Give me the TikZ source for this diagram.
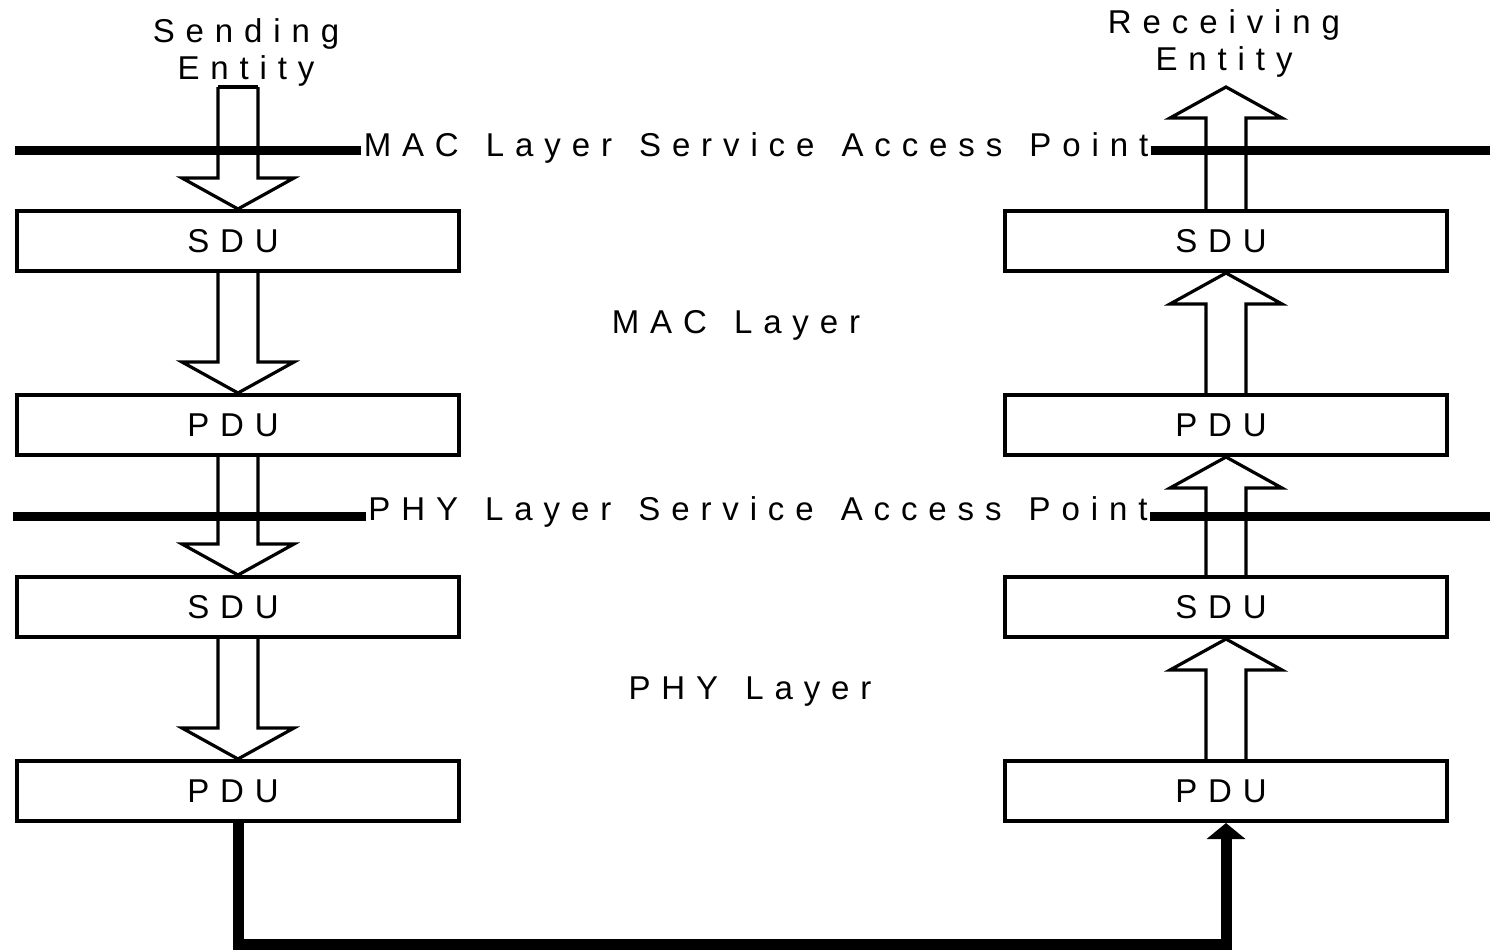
\documentclass[tikz,border=0pt]{standalone}
\usepackage{fontspec}
\usetikzlibrary{arrows.meta,calc}
\newfontfamily\pix[LetterSpace=33,WordSpace=1.35]{Liberation Sans}

% hollow block arrow pointing down: #1 shaft start, #2 tip
\newcommand\blockdown[2]{%
  \draw[blockarrow] let \p1=(#1), \p2=(#2) in
    (\x1-10pt,\y1) -- (\x1-10pt,\y2+15.5pt) -- (\x1-28pt,\y2+15.5pt) -- (\x1,\y2)
    -- (\x1+28pt,\y2+15.5pt) -- (\x1+10pt,\y2+15.5pt) -- (\x1+10pt,\y1);}
% hollow block arrow pointing up: #1 shaft start, #2 tip
\newcommand\blockup[2]{%
  \draw[blockarrow] let \p1=(#1), \p2=(#2) in
    (\x1-10pt,\y1) -- (\x1-10pt,\y2-15.5pt) -- (\x1-28pt,\y2-15.5pt) -- (\x1,\y2)
    -- (\x1+28pt,\y2-15.5pt) -- (\x1+10pt,\y2-15.5pt) -- (\x1+10pt,\y1);}

\tikzset{
  unitbox/.style={draw, line width=2pt, minimum width=221pt, minimum height=30pt,
    inner sep=0pt, font=\pix\fontsize{16.5}{18}\selectfont},
  blockarrow/.style={draw, line width=1.6pt, line join=miter},
  sapline/.style={line width=4.5pt},
  txt/.style={inner sep=1pt, font=\pix\fontsize{16.5}{18.5}\selectfont, align=center},
  link/.style={line width=5.5pt, line join=miter}
}

\begin{document}
\begin{tikzpicture}[x=0.5pt, y=-0.5pt]
\useasboundingbox (0,0) rectangle (1490,949);

% labels
\node[txt] (send) at (246,52) {Sending\\Entity};
\node[txt] (recv) at (1224,43) {Receiving\\Entity};
\node[txt] (maclayer) at (736,325) {MAC Layer};
\node[txt] (phylayer) at (750,692) {PHY Layer};

% sending stack
\node[unitbox] (ls1) at (238,241) {SDU\kern5pt};
\node[unitbox] (lp1) at (238,425) {PDU\kern5pt};
\node[unitbox] (ls2) at (238,607) {SDU\kern5pt};
\node[unitbox] (lp2) at (238,791) {PDU\kern5pt};

% receiving stack
\node[unitbox] (rs1) at (1226,241) {SDU\kern5pt};
\node[unitbox] (rp1) at (1226,425) {PDU\kern5pt};
\node[unitbox] (rs2) at (1226,607) {SDU\kern5pt};
\node[unitbox] (rp2) at (1226,791) {PDU\kern5pt};

\coordinate (sndtop) at (238,87);
\coordinate (rcvtip) at (1226,87);

% service access point boundaries
\node[txt] (macsap) at (756,148) {MAC Layer Service Access Point};
\node[txt] (physap) at (758,512) {PHY Layer Service Access Point};
\coordinate (macL) at (15,150);
\coordinate (macR) at (1490,150);
\coordinate (phyL) at (13,516);
\coordinate (phyR) at (1490,516);
\draw[sapline] (macL) -- (macL -| macsap.west);
\draw[sapline] (macR -| macsap.east) -- (macR);
\draw[sapline] (phyL) -- (phyL -| physap.west);
\draw[sapline] (phyR -| physap.east) -- (phyR);

% downward flow on the sending side
\draw[blockarrow] let \p1=(sndtop) in (\x1-10pt,\y1) -- (\x1+10pt,\y1);
\blockdown{sndtop}{ls1.north}
\blockdown{ls1.south}{lp1.north}
\blockdown{lp1.south}{ls2.north}
\blockdown{ls2.south}{lp2.north}

% upward flow on the receiving side
\blockup{rs1.north}{rcvtip}
\blockup{rp1.north}{rs1.south}
\blockup{rs2.north}{rp1.south}
\blockup{rp2.north}{rs2.south}

% physical link between the two entities
\draw[link, -{Triangle[width=19pt,length=8pt]}]
  (lp2.south) -- ++(0,121) -| (rp2.south);
\end{tikzpicture}
\end{document}
